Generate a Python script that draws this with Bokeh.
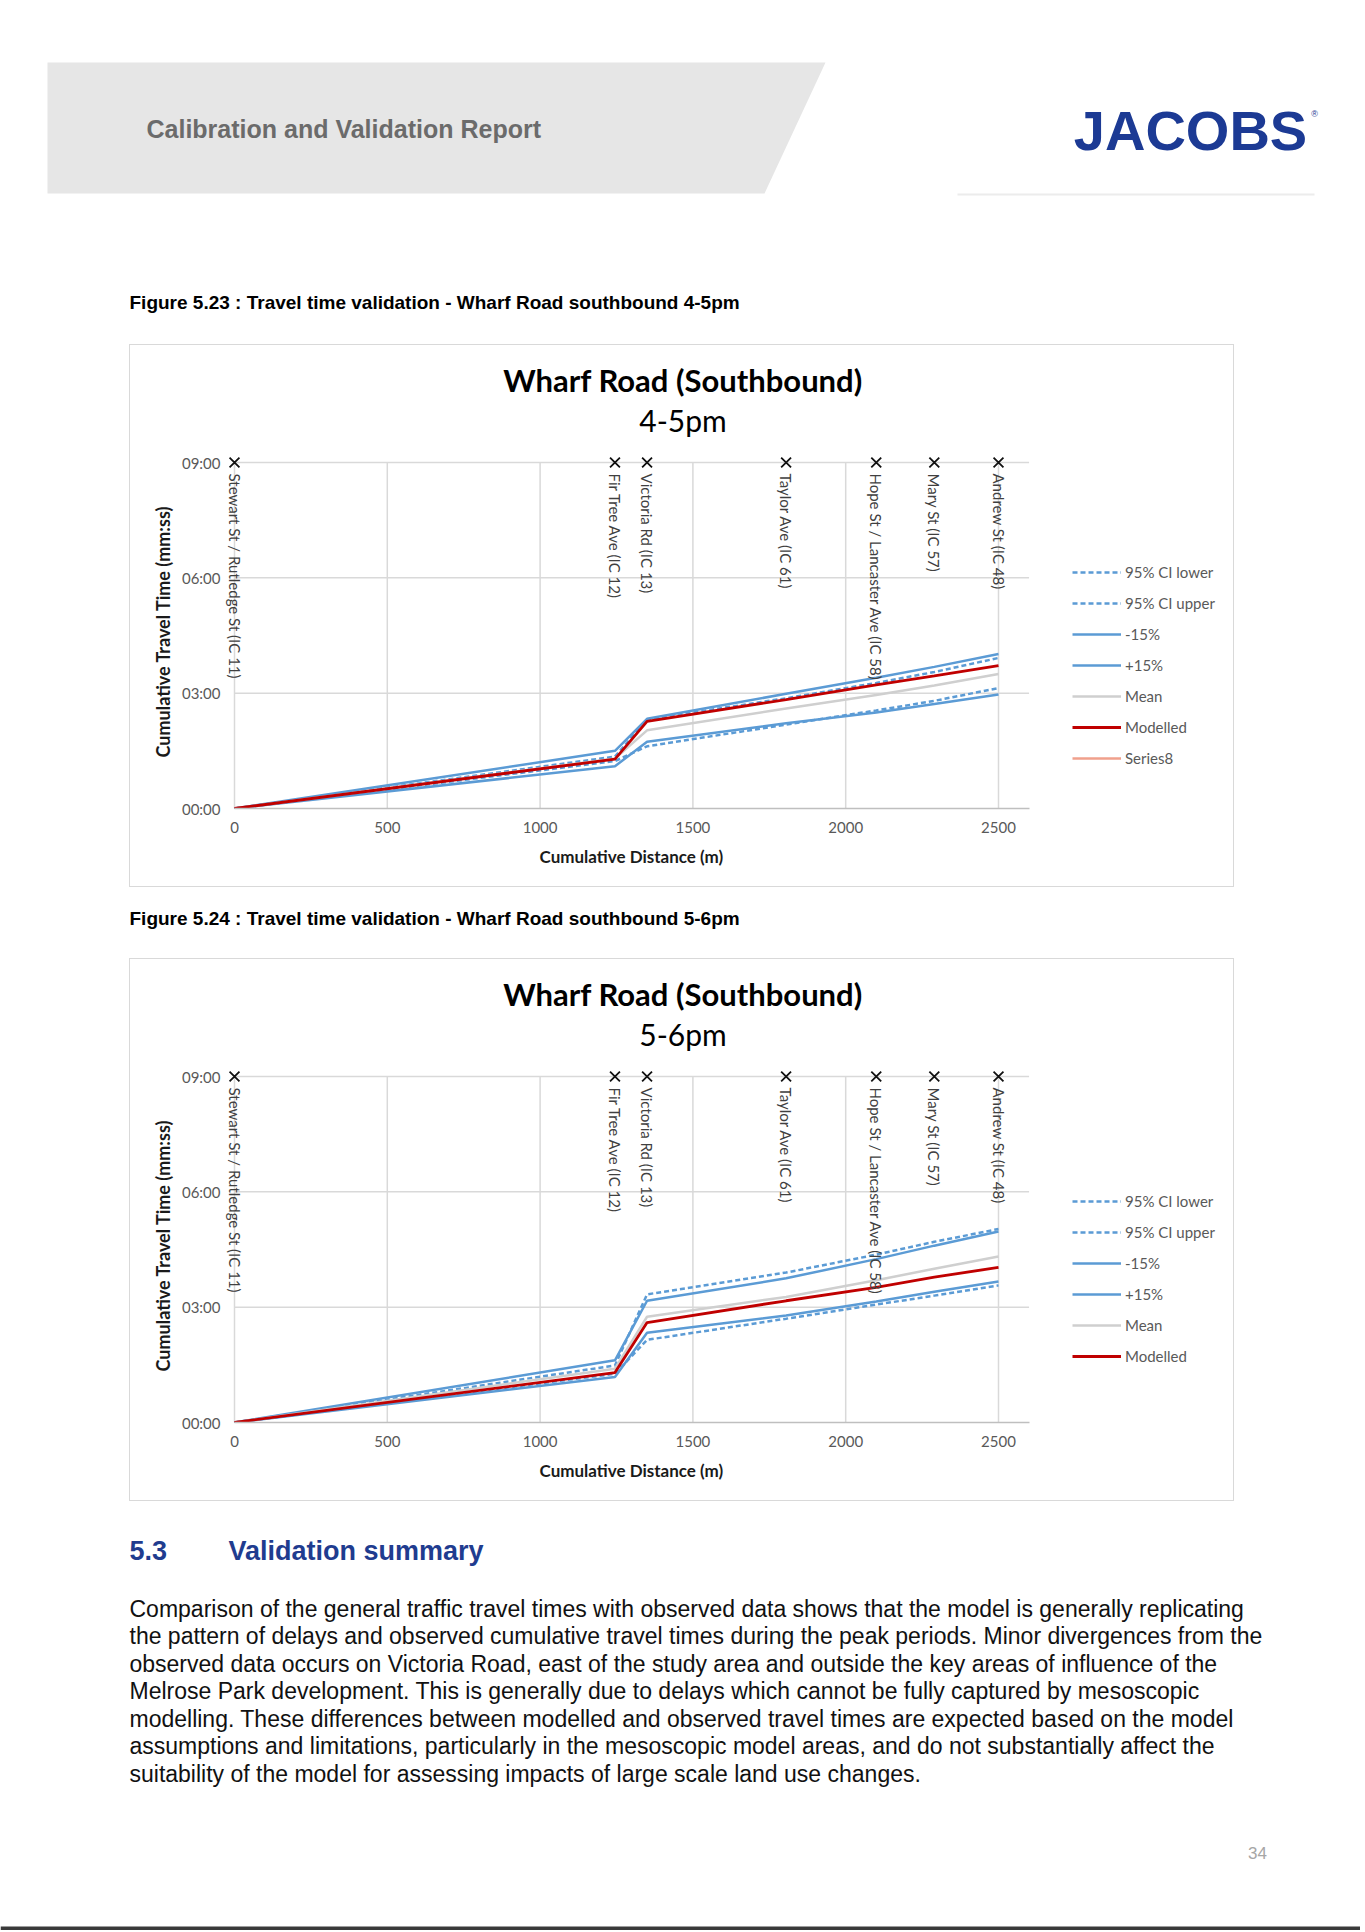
import math
from bokeh.plotting import figure
from bokeh.models import (Range1d, FixedTicker, Legend, LegendItem, LabelSet, Label, Title,
                          ColumnDataSource, Spacer)
from bokeh.layouts import column, row
from bokeh.core.properties import value
from bokeh.embed import file_html
from bokeh.resources import INLINE

# ---------------- data ----------------
distance_m = [0, 1245, 1350, 1805, 2100, 2290, 2500]
intersections = ["Stewart St / Rutledge St (IC 11)", "Fir Tree Ave (IC 12)", "Victoria Rd (IC 13)",
                 "Taylor Ave (IC 61)", "Hope St / Lancaster Ave (IC 58)", "Mary St (IC 57)",
                 "Andrew St (IC 48)"]
x_ticks = [0, 500, 1000, 1500, 2000, 2500]
x_max = 2600
y_tick_values = [0, 180, 360, 540]
y_tick_labels = ["00:00", "03:00", "06:00", "09:00"]

# 4-5pm cumulative travel time (seconds)
pm45_ci_lower = [0, 74, 97, 131, 153, 168, 188]
pm45_ci_upper = [0, 81, 139, 172, 196, 213, 235]
pm45_minus15 = [0, 66, 104, 133, 150, 163, 178]
pm45_plus15 = [0, 90, 140, 179, 204, 221, 241]
pm45_mean = [0, 78, 122, 156, 177, 192, 210]
pm45_modelled = [0, 77, 136, 170, 193, 207, 223]

# 5-6pm cumulative travel time (seconds)
pm56_ci_lower = [0, 76, 129, 162, 184, 198, 214]
pm56_ci_upper = [0, 89, 200, 234, 262, 282, 302]
pm56_minus15 = [0, 71, 140, 167, 189, 204, 220]
pm56_plus15 = [0, 97, 190, 225, 255, 276, 298]
pm56_mean = [0, 84, 165, 196, 222, 240, 259]
pm56_modelled = [0, 78, 156, 190, 211, 227, 242]

paragraph = [
    "Comparison of the general traffic travel times with observed data shows that the model is generally replicating",
    "the pattern of delays and observed cumulative travel times during the peak periods. Minor divergences from the",
    "observed data occurs on Victoria Road, east of the study area and outside the key areas of influence of the",
    "Melrose Park development. This is generally due to delays which cannot be fully captured by mesoscopic",
    "modelling. These differences between modelled and observed travel times are expected based on the model",
    "assumptions and limitations, particularly in the mesoscopic model areas, and do not substantially affect the",
    "suitability of the model for assessing impacts of large scale land use changes.",
]

# ---------------- styles / geometry ----------------
PAGE_W = 1360
BLUE = "#5B9BD5"
RED = "#C00000"
GREY_MEAN = "#CFCFCF"
SERIES8 = "#F0A08C"
GRID = "#d9d9d9"
CHART_FONT = "Lato"
DOC_FONT = "Liberation Sans"

CW, CH = 1105, 543          # chart canvas (inside a 1px border)
FL, FB = 94, 80             # frame left / bottom borders
K_X = 764.0 / 2500.0        # px per metre
K_Y = 346.0 / 540.0         # px per second
X0 = -10.0 / K_X
X1 = X0 + (CW - FL) / K_X
Y1 = (CH - FB) / K_Y


def page_fig(y0, y1):
    p = figure(width=PAGE_W, height=y1 - y0, x_range=Range1d(0, PAGE_W), y_range=Range1d(y1, y0),
               x_axis_type=None, y_axis_type=None, min_border=0, toolbar_location=None,
               output_backend="svg", outline_line_color=None)
    p.grid.visible = False
    return p


def make_chart(subtitle, s, with_series8, legend_y):
    p = figure(width=CW, height=CH, x_range=Range1d(X0, X1), y_range=Range1d(0, Y1),
               min_border_left=FL, min_border_right=0, min_border_top=0, min_border_bottom=FB,
               toolbar_location=None, output_backend="svg", outline_line_color=None)
    p.styles = {"border": "1px solid #d9d9d9"}
    p.grid.visible = False

    # axes
    xa = p.xaxis[0]
    xa.ticker = FixedTicker(ticks=x_ticks)
    xa.bounds = (0, x_max)
    xa.axis_line_color = "#bfbfbf"
    xa.axis_line_width = 1.5
    ya = p.yaxis[0]
    ya.ticker = FixedTicker(ticks=y_tick_values)
    ya.major_label_overrides = dict(zip(y_tick_values, y_tick_labels))
    ya.axis_line_color = None
    for ax in (xa, ya):
        ax.major_tick_line_color = None
        ax.minor_tick_line_color = None
        ax.major_tick_out = 0
        ax.major_tick_in = 0
        ax.minor_tick_out = 0
        ax.major_label_text_font = CHART_FONT
        ax.major_label_text_font_size = "15px"
        ax.major_label_text_color = "#595959"
    xa.major_label_standoff = 13
    ya.major_label_standoff = 4

    p.add_layout(Title(text="Cumulative Distance (m)", align="left", offset=315,
                       vertical_align="top", standoff=20, text_font=CHART_FONT,
                       text_font_style="bold", text_font_size="17px", text_color="#1a1a1a"), "below")
    p.add_layout(Title(text="Cumulative Travel Time (mm:ss)", align="left", offset=51,
                       vertical_align="bottom", standoff=10, text_font=CHART_FONT,
                       text_font_style="bold", text_font_size="18px", text_color="#1a1a1a"), "left")

    # gridlines (bounded like the original chart)
    hy = y_tick_values[1:]
    p.segment(x0=[0] * len(hy), x1=[x_max] * len(hy), y0=hy, y1=hy,
              line_color=GRID, line_width=1.5)
    p.segment(x0=x_ticks, x1=x_ticks, y0=[0] * len(x_ticks), y1=[y_tick_values[-1]] * len(x_ticks),
              line_color=GRID, line_width=1.5)

    src = ColumnDataSource(dict(x=distance_m, cil=s[0], ciu=s[1], m15=s[2], p15=s[3],
                                mean=s[4], mod=s[5]))
    r_cil = p.line("x", "cil", source=src, line_color=BLUE, line_width=2.5, line_dash="5 3")
    r_ciu = p.line("x", "ciu", source=src, line_color=BLUE, line_width=2.5, line_dash="5 3")
    r_m15 = p.line("x", "m15", source=src, line_color=BLUE, line_width=2.5)
    r_p15 = p.line("x", "p15", source=src, line_color=BLUE, line_width=2.5)
    r_mean = p.line("x", "mean", source=src, line_color=GREY_MEAN, line_width=2.5)
    r_mod = p.line("x", "mod", source=src, line_color=RED, line_width=2.8)
    items = [LegendItem(label="95% CI lower", renderers=[r_cil]),
             LegendItem(label="95% CI upper", renderers=[r_ciu]),
             LegendItem(label="-15%", renderers=[r_m15]),
             LegendItem(label="+15%", renderers=[r_p15]),
             LegendItem(label="Mean", renderers=[r_mean]),
             LegendItem(label="Modelled", renderers=[r_mod])]
    if with_series8:
        r8 = p.line(x=[float("nan")], y=[float("nan")], line_color=SERIES8, line_width=2.5)
        items.append(LegendItem(label="Series8", renderers=[r8]))

    # intersection markers and labels
    top = y_tick_values[-1]
    isrc = ColumnDataSource(dict(x=distance_m, y=[top] * len(distance_m), name=intersections))
    p.scatter("x", "y", source=isrc, marker="x", size=14, line_color="#111111", line_width=1.8)
    p.add_layout(LabelSet(x="x", y="y", text="name", source=isrc, angle=-math.pi / 2,
                          y_offset=-11, text_align="left", text_baseline="middle",
                          text_font=value(CHART_FONT), text_font_size="15px",
                          text_color="#404040"))

    # chart titles (centred on the chart box)
    tx = (CW / 2 - (FL + 10)) / K_X
    p.add_layout(Label(x=tx, y=(CH - FB - 34) / K_Y, text="Wharf Road (Southbound)",
                       text_align="center", text_baseline="middle", text_font=CHART_FONT,
                       text_font_style="bold", text_font_size="31px", text_color="#000000"))
    p.add_layout(Label(x=tx, y=(CH - FB - 74) / K_Y, text=subtitle, text_align="center",
                       text_baseline="middle", text_font=CHART_FONT,
                       text_font_size="30px", text_color="#000000"))

    legend = Legend(items=items, location=(848, legend_y), orientation="vertical",
                    label_text_font=CHART_FONT, label_text_font_size="15px",
                    label_text_color="#595959", glyph_width=49, glyph_height=20,
                    label_height=20, label_standoff=4, spacing=11, padding=0, margin=0,
                    border_line_color=None, background_fill_alpha=0)
    p.add_layout(legend)
    return p


# ---------------- header ----------------
head = page_fig(0, 344)
head.patch(x=[47, 825, 764, 47], y=[62, 62, 193, 193], fill_color="#e6e6e6", line_color=None)
head.text(x=[146], y=[128], text=["Calibration and Validation Report"], text_font=value(DOC_FONT),
          text_font_style="bold", text_font_size="25px", text_color="#6b6b6b",
          text_baseline="middle", text_align="left")
head.text(x=[1190], y=[130], text=["JACOBS"], text_font=value(DOC_FONT), text_font_style="bold",
          text_font_size="56px", text_color="#1C3A94", text_baseline="middle",
          text_align="center")
head.text(x=[1314], y=[113], text=["\u00ae"], text_font=value(DOC_FONT), text_font_size="9px",
          text_color="#1C3A94", text_baseline="middle", text_align="center")
head.line(x=[957, 1314], y=[194, 194], line_color="#ececec", line_width=2)
head.text(x=[129], y=[302], text=["Figure 5.23 : Travel time validation - Wharf Road southbound 4-5pm"],
          text_font=value(DOC_FONT), text_font_style="bold", text_font_size="19px",
          text_color="#000000", text_baseline="middle", text_align="left")

chart1 = make_chart("4-5pm", [pm45_ci_lower, pm45_ci_upper, pm45_minus15, pm45_plus15, pm45_mean,
                              pm45_modelled], True, 40)

mid = page_fig(889, 958)
mid.text(x=[129], y=[918], text=["Figure 5.24 : Travel time validation - Wharf Road southbound 5-6pm"],
         text_font=value(DOC_FONT), text_font_style="bold", text_font_size="19px",
         text_color="#000000", text_baseline="middle", text_align="left")

chart2 = make_chart("5-6pm", [pm56_ci_lower, pm56_ci_upper, pm56_minus15, pm56_plus15, pm56_mean,
                              pm56_modelled], False, 56)

# ---------------- bottom text ----------------
bottom = page_fig(1503, 1930)
bottom.text(x=[129, 228], y=[1550, 1550], text=["5.3", "Validation summary"], text_font=value(DOC_FONT),
            text_font_style="bold", text_font_size="27px", text_color="#1F3C8F",
            text_baseline="middle", text_align="left")
line_y = [1608 + 27.5 * i for i in range(len(paragraph))]
bottom.text(x=[129] * len(paragraph), y=line_y, text=paragraph, text_font=value(DOC_FONT),
            text_font_size="23px", text_color="#111111", text_baseline="middle", text_align="left")
bottom.text(x=[1257], y=[1852], text=["34"], text_font=value(DOC_FONT), text_font_size="17px",
            text_color="#a6a6a6", text_baseline="middle", text_align="center")
bottom.quad(left=[0], right=[PAGE_W], top=[1926], bottom=[1930], fill_color="#3a3a3a", line_color=None)

layout = column(head,
                row(Spacer(width=129, height=545), chart1),
                mid,
                row(Spacer(width=129, height=545), chart2),
                bottom)

open("out.html", "w").write(file_html(layout, INLINE))
